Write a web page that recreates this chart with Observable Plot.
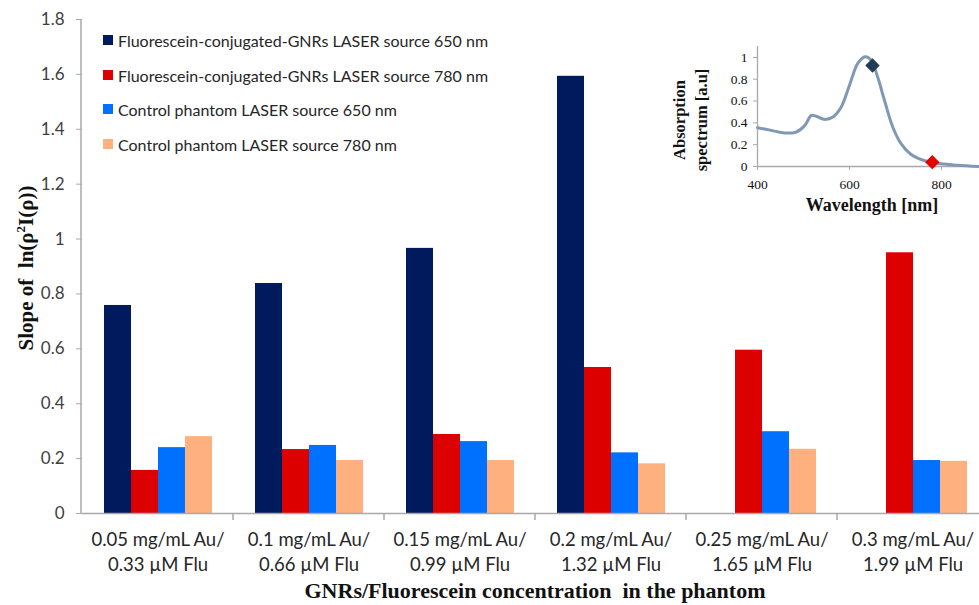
<!DOCTYPE html>
<html><head><meta charset="utf-8">
<script src="https://cdn.jsdelivr.net/npm/d3@7"></script>
<script src="https://cdn.jsdelivr.net/npm/@observablehq/plot@0.6"></script>
<style>
body{margin:0;background:#fff;}
#wrap{position:relative;width:979px;height:605px;overflow:hidden;background:#fff;}
#main{position:absolute;left:0;top:0;width:979px;height:605px;}
#inset{position:absolute;left:640px;top:0;width:347px;height:215px;}
#wrap svg{max-width:none !important;}
.legend{position:absolute;left:103px;top:0;font-family:Lato,"Open Sans",sans-serif;font-size:16px;color:#262626;}
.legend .row{position:absolute;left:0;white-space:nowrap;display:flex;align-items:center;}
.legend .sw{width:10px;height:10px;margin-right:5px;display:inline-block;}
.ttl{position:absolute;font-family:"Liberation Serif","Times New Roman",serif;font-weight:bold;color:#111;white-space:nowrap;}
</style></head><body><div id="wrap"><div id="main"></div><div id="inset"></div></div>
<script>
// ---------- data ----------
const categories = [
  "0.05 mg/mL Au/\n0.33 µM Flu",
  "0.1 mg/mL Au/\n0.66 µM Flu",
  "0.15 mg/mL Au/\n0.99 µM Flu",
  "0.2 mg/mL Au/\n1.32 µM Flu",
  "0.25 mg/mL Au/\n1.65 µM Flu",
  "0.3 mg/mL Au/\n1.99 µM Flu"
];
const seriesNames = [
  "Fluorescein-conjugated-GNRs LASER source 650 nm",
  "Fluorescein-conjugated-GNRs LASER source 780 nm",
  "Control phantom LASER source 650 nm",
  "Control phantom LASER source 780 nm"
];
const seriesColors = ["#001a5e", "#dd0000", "#0070ff", "#ffb07f"];
const gnr650  = [0.758, 0.838, 0.966, 1.593, null, null];
const gnr780  = [0.157, 0.233, 0.288, 0.532, 0.595, 0.950];
const ctrl650 = [0.240, 0.248, 0.262, 0.221, 0.298, 0.193];
const ctrl780 = [0.280, 0.193, 0.193, 0.181, 0.234, 0.190];
const yTicks = [0, 0.2, 0.4, 0.6, 0.8, 1, 1.2, 1.4, 1.6, 1.8];

// inset: absorption spectrum
const wavelength = [400, 430, 459, 484, 503, 517, 528, 546, 564, 582, 600, 618, 634, 647, 661, 676, 694, 712, 734, 762, 799, 835, 882];
const absorbance = [0.356, 0.331, 0.307, 0.316, 0.377, 0.469, 0.460, 0.432, 0.454, 0.546, 0.745, 0.945, 1.006, 0.975, 0.822, 0.607, 0.362, 0.209, 0.110, 0.055, 0.025, 0.012, 0.0];
const markerWavelength = [650, 780];
const markerAbsorbance = [0.926, 0.040];
const markerColors = ["#243b55", "#e60000"];
const insetXTicks = [400, 600, 800];
const insetYTicks = [0, 0.2, 0.4, 0.6, 0.8, 1];

// ---------- main chart ----------
const allSeries = [gnr650, gnr780, ctrl650, ctrl780];
const rows = [];
categories.forEach((c, i) => seriesNames.forEach((s, j) => {
  const v = allSeries[j][i];
  if (v != null) rows.push({cat: c, series: s, value: v});
}));

const axisGray = "#a9a9a9";
const main = Plot.plot({
  width: 979, height: 605,
  marginLeft: 81, marginRight: 0, marginTop: 19, marginBottom: 92,
  style: {fontFamily: "Lato, 'Open Sans', sans-serif", background: "transparent"},
  fx: {domain: categories, range: [81, 989], padding: 0, label: null},
  x: {domain: seriesNames, paddingInner: 0, paddingOuter: 0.77, label: null},
  y: {domain: [0, 1.8], label: null},
  color: {domain: seriesNames, range: seriesColors},
  marks: [
    Plot.barY(rows, {fx: "cat", x: "series", y: "value", fill: "series"}),
    Plot.ruleY([0], {stroke: axisGray, strokeWidth: 1.5}),
    Plot.axisY({ticks: yTicks, tickFormat: d => String(d), tickSize: 6, tickPadding: 12,
      fontSize: 17, stroke: axisGray, fill: "#404040", label: null}),
    Plot.axisFx({anchor: "bottom", tickSize: 0, tickPadding: 14, fontSize: 18.5,
      lineHeight: 1.38, fill: "#262626", label: null}),
    Plot.axisX({ticks: [], label: null})
  ]
});
document.getElementById("main").appendChild(main);

// axis line and group-boundary ticks, positioned with the plot's own scales
{
  const svg = d3.select(main);
  const fx = main.scale("fx"), y = main.scale("y");
  const y0 = y.apply(0), yTop = y.apply(1.8);
  const g = svg.append("g").attr("stroke", axisGray).attr("stroke-width", 1.5);
  g.append("line").attr("x1", 81).attr("x2", 81).attr("y1", yTop).attr("y2", y0);
  const bw = fx.bandwidth;
  categories.forEach(c => {
    const x0 = fx.apply(c);
    g.append("line").attr("x1", x0 + bw).attr("x2", x0 + bw).attr("y1", y0).attr("y2", y0 + 7);
  });
}

// legend
{
  const lg = d3.select("#wrap").append("div").attr("class", "legend");
  const tops = [40, 75, 109, 144];
  seriesNames.forEach((s, i) => {
    const r = lg.append("div").attr("class", "row").style("top", (tops[i] - 10) + "px").style("height", "20px");
    r.append("span").attr("class", "sw").style("background", seriesColors[i]);
    r.append("span").text(s);
  });
}

// titles
d3.select("#wrap").append("div").attr("class", "ttl")
  .style("font-size", "21px")
  .style("left", "26px").style("top", "268px")
  .style("transform", "translate(-50%,-50%) rotate(-90deg)")
  .html("Slope of&nbsp; ln(ρ<sup style='font-size:13px'>2</sup>I(ρ))");
d3.select("#wrap").append("div").attr("class", "ttl")
  .style("font-size", "22px")
  .style("left", "535px").style("top", "591px")
  .style("transform", "translate(-50%,-50%)")
  .html("GNRs/Fluorescein concentration&nbsp; in the phantom");

// ---------- inset ----------
const spec = wavelength.map((w, i) => ({w, a: absorbance[i]}));
const marks2 = markerWavelength.map((w, i) => ({w, a: markerAbsorbance[i], c: markerColors[i]}));
const inset = Plot.plot({
  width: 347, height: 215,
  marginLeft: 117, marginRight: 0, marginTop: 46, marginBottom: 49,
  style: {fontFamily: "'Liberation Serif', 'Times New Roman', serif", background: "transparent"},
  x: {domain: [400, 900], label: null},
  y: {domain: [0, 1.1], label: null},
  marks: [
    Plot.ruleY([0], {stroke: axisGray, strokeWidth: 1.3}),
    Plot.ruleX([400], {stroke: axisGray, strokeWidth: 1.3}),
    Plot.axisY({ticks: insetYTicks, tickFormat: d => String(d), tickSize: 4, tickPadding: 6,
      fontSize: 13.5, stroke: axisGray, fill: "#111", label: null}),
    Plot.axisX({ticks: insetXTicks, tickSize: 4, tickPadding: 9, fontSize: 13.5,
      stroke: axisGray, fill: "#111", label: null}),
    Plot.line(spec, {x: "w", y: "a", curve: "catmull-rom", stroke: "#7f98b3", strokeWidth: 3}),
    Plot.dot(marks2, {x: "w", y: "a", fill: "c", symbol: "diamond2", r: 6.5, stroke: "none"})
  ]
});
document.getElementById("inset").appendChild(inset);
d3.select("#wrap").append("div").attr("class", "ttl")
  .style("font-size", "16.5px").style("line-height", "22px").style("text-align", "center")
  .style("left", "691px").style("top", "120px")
  .style("transform", "translate(-50%,-50%) rotate(-90deg)")
  .html("Absorption<br>spectrum [a.u]");
d3.select("#wrap").append("div").attr("class", "ttl")
  .style("font-size", "18px")
  .style("left", "872px").style("top", "205px")
  .style("transform", "translate(-50%,-50%)")
  .text("Wavelength [nm]");
</script>
</body></html>
